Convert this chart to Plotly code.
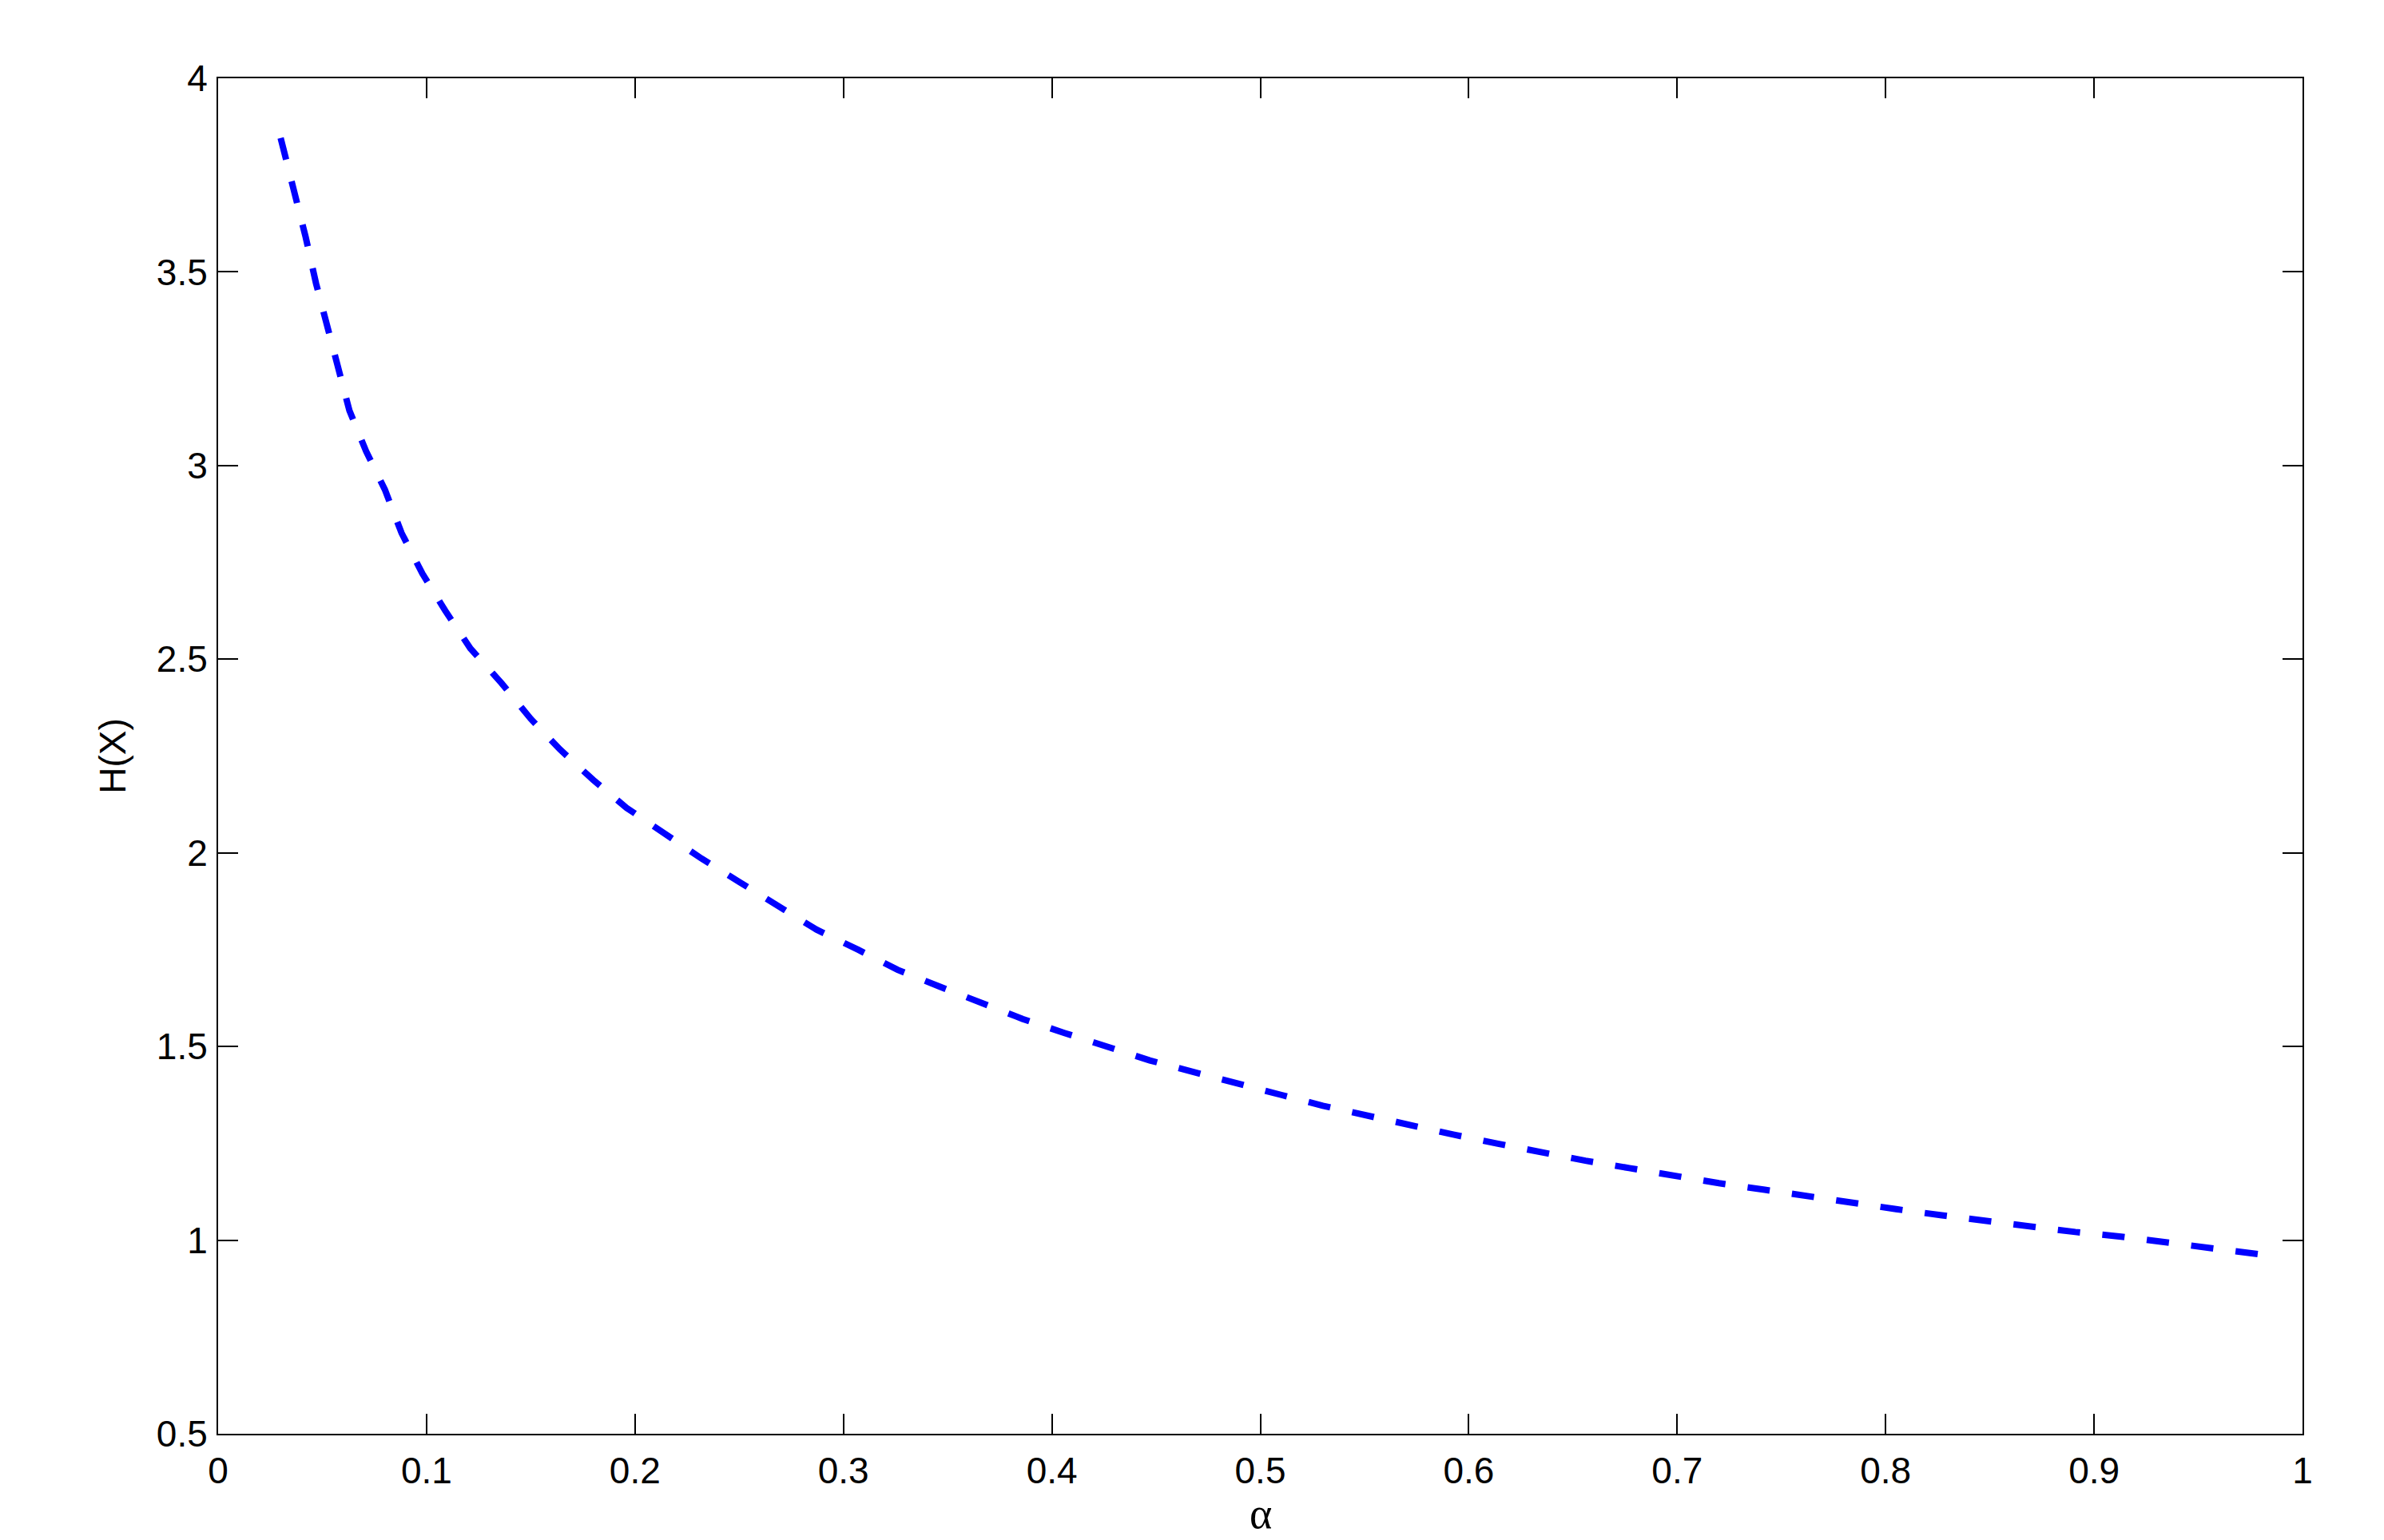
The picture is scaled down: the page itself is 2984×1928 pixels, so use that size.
import plotly.graph_objects as go

# values
alpha = [0.030, 0.037, 0.042, 0.047, 0.052, 0.057, 0.063, 0.071, 0.080, 0.088,
         0.098, 0.109, 0.121, 0.136, 0.150, 0.164, 0.180, 0.196, 0.214, 0.232,
         0.250, 0.270, 0.287, 0.307, 0.326, 0.346, 0.366, 0.386, 0.406, 0.426,
         0.447, 0.468, 0.489, 0.510, 0.530, 0.551, 0.572, 0.593, 0.614, 0.635,
         0.656, 0.677, 0.699, 0.720, 0.742, 0.763, 0.784, 0.805, 0.827, 0.848,
         0.869, 0.891, 0.913, 0.934, 0.956, 0.980]
H = [3.846, 3.700, 3.590, 3.470, 3.365, 3.254, 3.142, 3.037, 2.938, 2.826,
     2.721, 2.625, 2.528, 2.438, 2.346, 2.267, 2.188, 2.116, 2.050, 1.985,
     1.925, 1.860, 1.802, 1.750, 1.698, 1.655, 1.613, 1.571, 1.535, 1.500,
     1.464, 1.434, 1.403, 1.375, 1.347, 1.321, 1.296, 1.272, 1.249, 1.226,
     1.205, 1.186, 1.165, 1.147, 1.130, 1.112, 1.096, 1.080, 1.064, 1.049,
     1.035, 1.021, 1.009, 0.995, 0.983, 0.963]

x_ticks = [0, 0.1, 0.2, 0.3, 0.4, 0.5, 0.6, 0.7, 0.8, 0.9, 1]
x_labels = ["0", "0.1", "0.2", "0.3", "0.4", "0.5", "0.6", "0.7", "0.8", "0.9", "1"]
y_ticks = [0.5, 1, 1.5, 2, 2.5, 3, 3.5, 4]
y_labels = ["0.5", "1", "1.5", "2", "2.5", "3", "3.5", "4"]

sans = "Liberation Sans, Arial, Helvetica, sans-serif"

fig = go.Figure()
fig.add_trace(go.Scatter(x=alpha, y=H, mode="lines",
                         line=dict(color="#0000ff", width=8, dash="28px,28px"),
                         showlegend=False))

axis_style = dict(showline=True, linecolor="black", linewidth=2, mirror="ticks",
                  ticks="inside", ticklen=25, tickwidth=1.5, tickcolor="black",
                  showgrid=False, zeroline=False, automargin=False,
                  tickfont=dict(family=sans, size=46, color="black"))

fig.update_xaxes(range=[0, 1], tickvals=x_ticks, ticktext=x_labels,
                 ticklabelstandoff=5, **axis_style)
fig.update_yaxes(range=[0.5, 4], tickvals=y_ticks, ticktext=y_labels,
                 ticklabelstandoff=2,
                 title=dict(text="H(X)", font=dict(family=sans, size=46, color="black"), standoff=24),
                 **axis_style)

# x axis label, placed just under the tick labels
fig.add_annotation(text="α", xref="paper", yref="paper", x=0.5, y=0,
                   xanchor="center", yanchor="top", yshift=-68, showarrow=False,
                   font=dict(family="Liberation Serif, Times New Roman, serif", size=54, color="black"))

# page body has an 8px margin at the top/left
fig.update_layout(width=2968, height=1920,
                  margin=dict(l=265, r=94, t=90, b=133),
                  paper_bgcolor="white", plot_bgcolor="white")

fig.write_html("out.html")
